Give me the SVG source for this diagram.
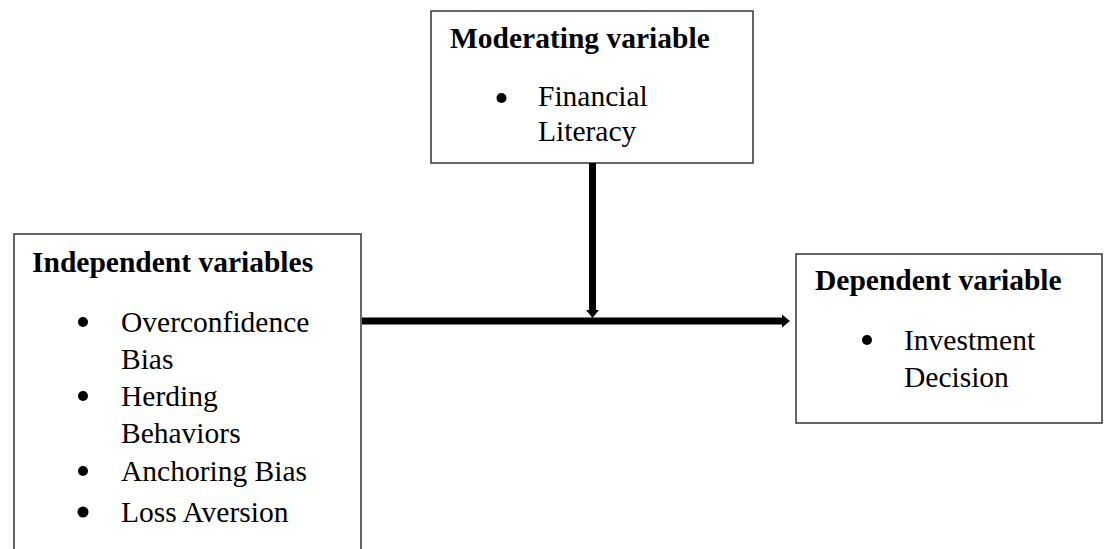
<svg xmlns="http://www.w3.org/2000/svg" width="1120" height="549" viewBox="0 0 1120 549">
<style>
.box{fill:#fff;stroke:#333;stroke-width:1.5}
.h{font-family:'Liberation Serif','Times New Roman',serif;font-weight:bold;font-size:29.5px;fill:#000}
.t{font-family:'Liberation Serif','Times New Roman',serif;font-size:29.5px;fill:#000}
.b{fill:#000}
.c{stroke:#000;stroke-width:7;fill:none}
</style>
<defs>
<marker id="ah" viewBox="0 0 8 13" refX="0" refY="6.5" markerWidth="8" markerHeight="13" orient="auto" markerUnits="userSpaceOnUse">
<path d="M0,0 L8,6.5 L0,13 z" fill="#000"/>
</marker>
</defs>
<g id="moderating">
<rect class="box" x="431" y="11" width="322" height="152"/>
<text class="h" x="450" y="48">Moderating variable</text>
<circle class="b" cx="501.5" cy="98" r="5"/>
<text class="t" x="538" y="106">Financial</text>
<text class="t" x="538" y="141">Literacy</text>
</g>
<g id="independent">
<rect class="box" x="14" y="234" width="347" height="330"/>
<text class="h" x="32" y="272">Independent variables</text>
<circle class="b" cx="83" cy="322" r="5"/>
<text class="t" x="121" y="332">Overconfidence</text>
<text class="t" x="121" y="369">Bias</text>
<circle class="b" cx="83" cy="396" r="5"/>
<text class="t" x="121" y="406">Herding</text>
<text class="t" x="121" y="443">Behaviors</text>
<circle class="b" cx="83" cy="471" r="5"/>
<text class="t" x="121" y="481">Anchoring Bias</text>
<circle class="b" cx="83" cy="512" r="5.5"/>
<text class="t" x="121" y="522">Loss Aversion</text>
</g>
<g id="dependent">
<rect class="box" x="796" y="254" width="306" height="169"/>
<text class="h" x="815" y="290">Dependent variable</text>
<circle class="b" cx="867" cy="340" r="5"/>
<text class="t" x="904" y="350">Investment</text>
<text class="t" x="904" y="387">Decision</text>
</g>
<g id="connectors">
<line class="c" x1="592.5" y1="163" x2="592.5" y2="310" marker-end="url(#ah)"/>
<line class="c" x1="362" y1="321" x2="782" y2="321" marker-end="url(#ah)"/>
</g>
</svg>
